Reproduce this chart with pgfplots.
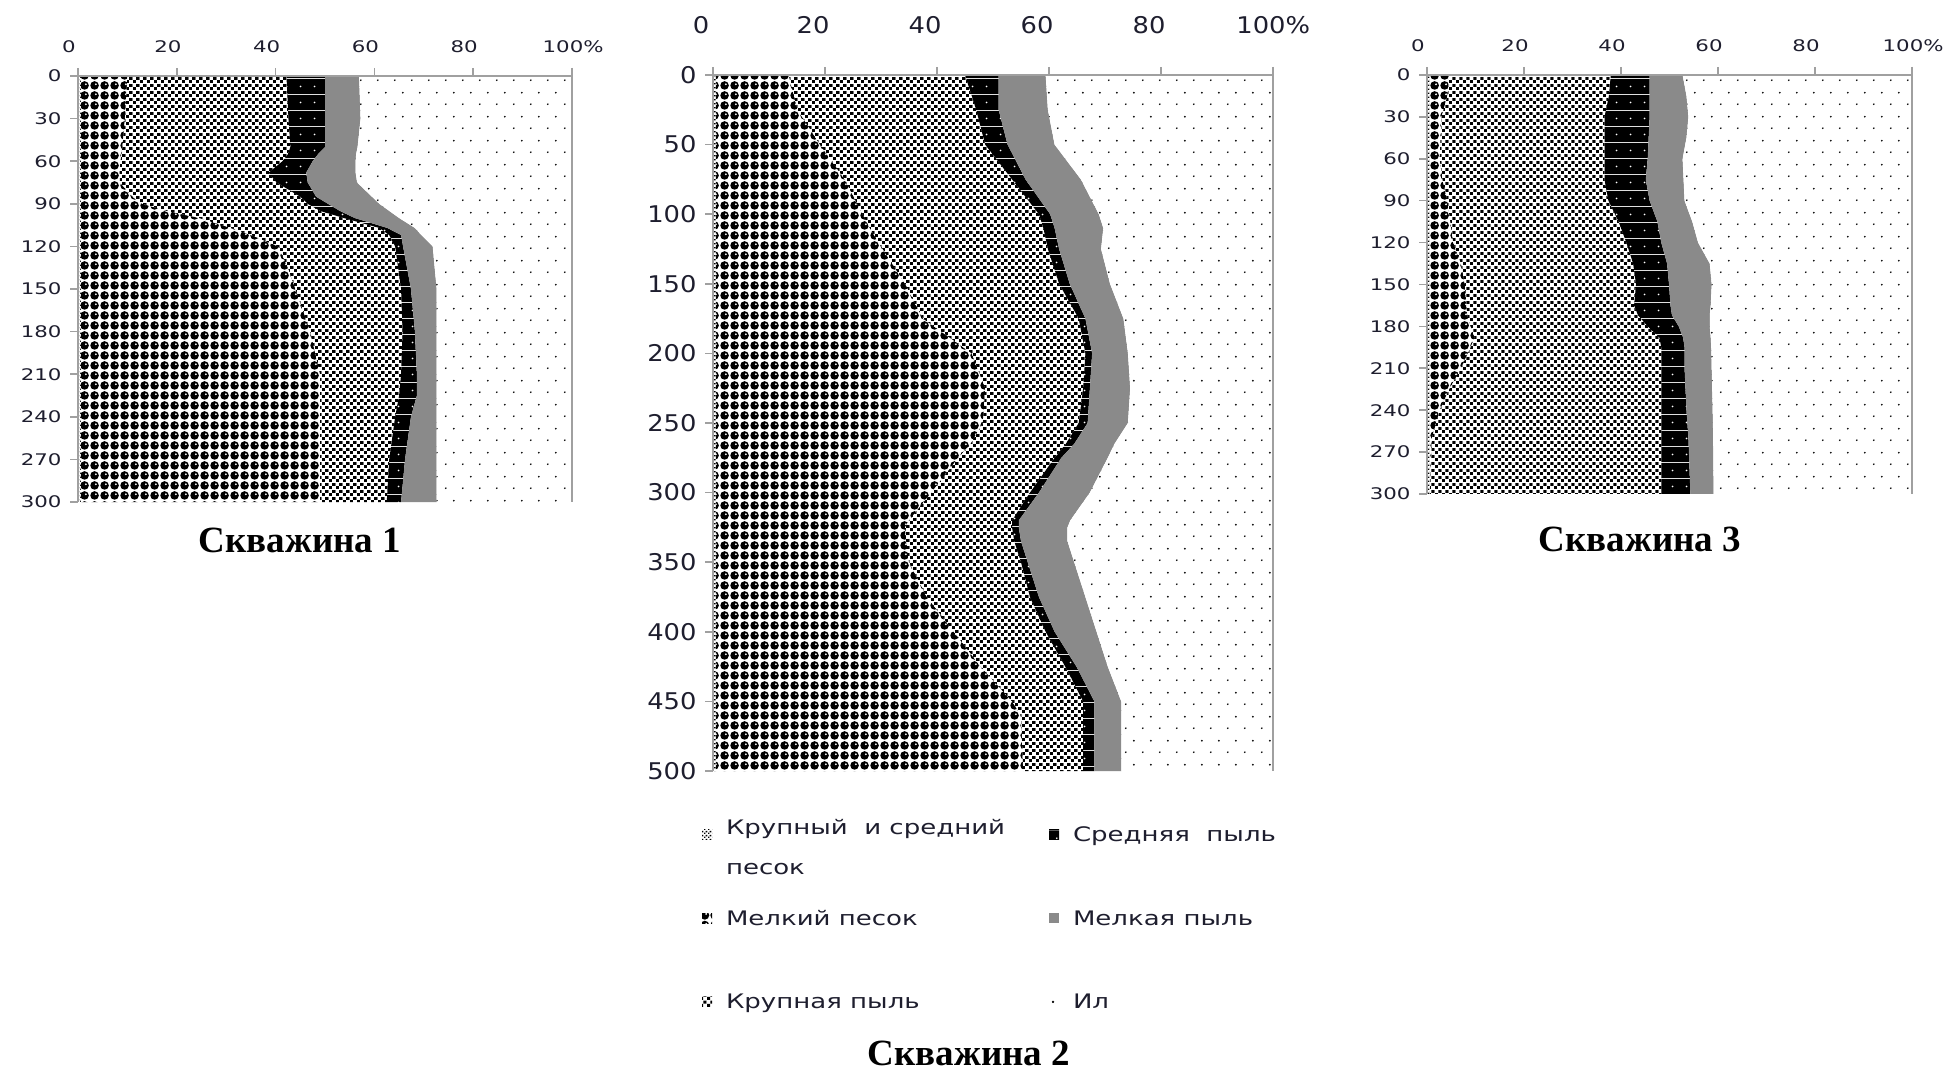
\documentclass[border=0pt]{standalone}
\usepackage{fontspec}
\setmainfont{Liberation Serif}
\newfontfamily\tickfont[FakeStretch=1.33]{DejaVu Sans}
\newfontfamily\tickfontB[FakeStretch=1.12]{DejaVu Sans}
\newfontfamily\legfont[FakeStretch=1.3]{DejaVu Sans}
\usepackage{pgfplots}
\usepackage{pgfplotstable}
\pgfplotsset{compat=1.18}
\usepgfplotslibrary{fillbetween}
\usetikzlibrary{patterns}

% patterns
\pgfdeclarepatterninherentlycolored{circlesbw}{\pgfpointorigin}{\pgfqpoint{10pt}{10pt}}{\pgfqpoint{10pt}{10pt}}{%
  \pgfsetfillcolor{white}\pgfpathrectangle{\pgfpointorigin}{\pgfqpoint{10pt}{10pt}}\pgfusepath{fill}%
  \pgfsetfillcolor{black}\pgfpathcircle{\pgfqpoint{5pt}{5pt}}{4.7pt}\pgfusepath{fill}%
  \pgfsetfillcolor{white}\pgfpathcircle{\pgfqpoint{6.5pt}{6.3pt}}{1.1pt}\pgfusepath{fill}}
\pgfdeclarepatterninherentlycolored{coarsedust}{\pgfpointorigin}{\pgfqpoint{7pt}{7pt}}{\pgfqpoint{7pt}{7pt}}{%
  \pgfsetfillcolor{white}\pgfpathrectangle{\pgfpointorigin}{\pgfqpoint{7pt}{7pt}}\pgfusepath{fill}%
  \pgfsetfillcolor{black}\pgfpathrectangle{\pgfqpoint{0.2pt}{0.2pt}}{\pgfqpoint{3.2pt}{3pt}}\pgfusepath{fill}%
  \pgfpathrectangle{\pgfqpoint{3.7pt}{3.7pt}}{\pgfqpoint{3.2pt}{3pt}}\pgfusepath{fill}}
\pgfdeclarepatterninherentlycolored{lightchk}{\pgfpointorigin}{\pgfqpoint{4pt}{4pt}}{\pgfqpoint{4pt}{4pt}}{%
  \pgfsetfillcolor{white}\pgfpathrectangle{\pgfpointorigin}{\pgfqpoint{4pt}{4pt}}\pgfusepath{fill}%
  \pgfsetfillcolor{black}\pgfpathrectangle{\pgfqpoint{0pt}{0pt}}{\pgfqpoint{1.6pt}{1.6pt}}\pgfusepath{fill}%
  \pgfpathrectangle{\pgfqpoint{2pt}{2pt}}{\pgfqpoint{1.6pt}{1.6pt}}\pgfusepath{fill}}
\pgfdeclarepatterninherentlycolored{blackdots}{\pgfpointorigin}{\pgfqpoint{14pt}{16pt}}{\pgfqpoint{14pt}{16pt}}{%
  \pgfsetfillcolor{black}\pgfpathrectangle{\pgfpointorigin}{\pgfqpoint{14pt}{16pt}}\pgfusepath{fill}%
  \pgfsetfillcolor{white}\pgfpathcircle{\pgfqpoint{7pt}{8pt}}{1pt}\pgfusepath{fill}}
\pgfdeclarepatterninherentlycolored{silt}{\pgfpointorigin}{\pgfqpoint{17pt}{24pt}}{\pgfqpoint{17pt}{24pt}}{%
  \pgfsetfillcolor{white}\pgfpathrectangle{\pgfpointorigin}{\pgfqpoint{17pt}{24pt}}\pgfusepath{fill}%
  \pgfsetfillcolor{black}\pgfpathcircle{\pgfqpoint{4pt}{6pt}}{1pt}\pgfusepath{fill}%
  \pgfpathcircle{\pgfqpoint{12.5pt}{18pt}}{1pt}\pgfusepath{fill}}
\definecolor{finegray}{HTML}{8A8A8A}
\definecolor{axgray}{HTML}{A0A0A0}
\definecolor{lbl}{HTML}{1E1E2E}

% boundaries (cumulative %): d = depth
\pgfplotstableread{
d z b1 b2 b3 b4 b5 h
0 0 0.6 10 42.2 50 56.9 100
30 0 0.6 9.5 42.6 50 57.2 100
50 0 0.6 9 43 50 56.6 100
55 0 0.6 8.8 42.5 48.6 56.3 100
60 0 0.6 8.6 41.4 47.5 56.2 100
68 0 0.6 8.4 38.6 46.2 56.2 100
75 0 0.6 8.5 40.2 46.5 56.5 100
85 0 0.6 11 45 48.2 59.5 100
90 0 0.6 13 46.5 50.6 61 100
95 0 0.6 18 49 53 63 100
100 0 0.6 24.5 53.8 56 65 100
107 0 0.6 31 61 62.6 68.2 100
112 0 0.6 35 63 65.4 69.5 100
120 0 0.6 40.5 64.2 65.8 71.8 100
135 0 0.6 42.5 64.8 66.6 72.2 100
150 0 0.6 44 65.4 67.4 72.6 100
180 0 0.6 47 65.7 68.2 72.6 100
210 0 0.6 49 65.4 68.6 72.6 100
225 0 0.6 49 65 68.6 72.6 100
240 0 0.6 49 64.2 67.4 72.6 100
270 0 0.6 49 63 66.2 72.6 100
300 0 0.6 49 62.5 65.4 72.6 100
}\tA
\pgfplotstableread{
d z b1 b2 b3 b4 b5 h
0 0 0.5 13.5 45 51 59.4 100
25 0 0.5 15.1 47 51 59.8 100
50 0 0.5 19.1 48.6 52.6 61 100
75 0 0.5 23.5 53.4 55.8 65.7 100
100 0 0.5 26.7 58.2 60.2 68.9 100
110 0 0.5 28 59 61 69.7 100
125 0 0.5 30.3 59.8 61.8 69.3 100
150 0 0.5 34.3 61.8 63.7 70.9 100
175 0 0.5 37.5 65.3 66.5 73.3 100
200 0 0.5 46.2 66.5 67.7 74.1 100
225 0 0.5 48.6 66.1 67.3 74.5 100
250 0 0.5 48.2 65.3 66.9 74.1 100
265 0 0.5 46 63 64.5 71.7 100
275 0 0.5 43.8 61 62.2 70.5 100
300 0 0.5 39 56.6 58.2 67.3 100
320 0 0.5 35 53.4 54.6 63.8 100
325 0 0.5 34.3 53.4 54.6 63.3 100
335 0 0.5 34.5 53.8 55 63.3 100
350 0 0.5 35 55 56.2 64.5 100
375 0 0.5 38.2 56.6 58.2 66.5 100
400 0 0.5 43 59.4 61 68.5 100
425 0 0.5 47.8 62.9 64.9 70.5 100
450 0 0.5 53.4 66.1 68.1 72.9 100
460 0 0.5 55 66.1 68.1 72.9 100
500 0 0.5 55.4 66.1 68.1 72.9 100
}\tB
\pgfplotstableread{
d z b1 b2 b3 b4 b5 h
0 0 0.6 4.6 37.9 45.9 52.7 100
15 0 0.6 4.2 37.5 45.9 53.5 100
30 0 0.6 3 36.6 45.9 53.9 100
45 0 0.6 2.8 36.6 45.7 53.5 100
60 0 0.6 2.6 36.6 45.5 52.7 100
75 0 0.6 3.2 36.6 45.1 52.9 100
90 0 0.6 4.2 37.4 45.9 53.1 100
105 0 0.6 4.8 39.5 47.5 54.7 100
120 0 0.6 5.4 41.1 48.3 55.9 100
135 0 0.6 7 42.5 49.5 58.3 100
150 0 0.6 7.8 43.1 49.9 58.7 100
165 0 0.6 8.1 42.7 50.2 58.5 100
172 0 0.6 8.3 43.5 50.5 58.3 100
180 0 0.6 9 45.5 51.9 58.3 100
188 0 0.6 9.8 47.9 52.8 58.5 100
195 0 0.6 9 48.3 53.1 58.6 100
210 0 0.6 7 48.3 53.1 58.7 100
225 0 0.6 4.6 48.3 53.3 58.8 100
240 0 0.6 2.6 48.3 53.5 58.9 100
260 0 0.6 1 48.3 53.9 59 100
300 0 0.6 0.6 48.3 54.3 59.1 100
}\tC

\pgfplotsset{
  wellaxis/.style={
    scale only axis, y dir=reverse, xmin=0, xmax=100,
    axis x line*=top, axis y line*=left,
    xtick={0,20,40,60,80,100}, xticklabels={0,20,40,60,80,100\rlap{\%}},
    tick align=outside, major tick length=8pt,
    axis line style={-, axgray, line width=1.6pt},
    every tick/.style={axgray, line width=1.6pt},
    axis on top,
    extra x ticks={100}, extra x tick labels={},
    extra x tick style={grid=major, major grid style={axgray, line width=1.6pt}},
    /pgf/number format/assume math mode=true,
    tick label style={text=lbl},
    yticklabel style={xshift=-5pt},
  },
}

\newcommand\layers[2]{%
  \addplot[draw=none, forget plot, name path=#2z] table[x=z, y=d] {#1};
  \addplot[draw=none, forget plot, name path=#2a] table[x=b1, y=d] {#1};
  \addplot[draw=none, forget plot, name path=#2b] table[x=b2, y=d] {#1};
  \addplot[draw=none, forget plot, name path=#2c] table[x=b3, y=d] {#1};
  \addplot[draw=none, forget plot, name path=#2d] table[x=b4, y=d] {#1};
  \addplot[draw=none, forget plot, name path=#2e] table[x=b5, y=d] {#1};
  \addplot[draw=none, forget plot, name path=#2h] table[x=h, y=d] {#1};
  \addplot[pattern=lightchk, draw=none, forget plot] fill between[of=#2z and #2a, reverse=true];
  \addplot[pattern=circlesbw, draw=none, forget plot] fill between[of=#2a and #2b, reverse=true];
  \addplot[pattern=coarsedust, draw=none, forget plot] fill between[of=#2b and #2c, reverse=true];
  \addplot[pattern=blackdots, draw=none, forget plot] fill between[of=#2c and #2d, reverse=true];
  \addplot[fill=finegray, draw=none, forget plot] fill between[of=#2d and #2e, reverse=true];
  \addplot[pattern=silt, draw=none, forget plot] fill between[of=#2e and #2h, reverse=true];
}

\begin{document}
\begin{tikzpicture}

% Скважина 1
\begin{axis}[wellaxis, at={(78pt,-76pt)}, anchor=north west,
  width=494pt, height=426pt, ymin=0, ymax=300, ytick={0,30,...,300},
  tick label style={font=\tickfont\fontsize{16}{16}\selectfont},
  xticklabel style={yshift=12pt, xshift=-9pt}]
\layers{\tA}{p}
\end{axis}

% Скважина 2
\begin{axis}[wellaxis, at={(713pt,-75pt)}, anchor=north west,
  width=560pt, height=696pt, ymin=0, ymax=500, ytick={0,50,...,500},
  tick label style={font=\tickfontB\fontsize{23}{23}\selectfont},
  xticklabel style={yshift=30pt, xshift=-12pt},
  legend image code/.code={\path[#1] (0pt,-5pt) rectangle (10pt,5pt);},
  legend columns=3, transpose legend, legend cell align=left,
  legend style={at={(axis description cs:-0.02,-0.077)}, anchor=north west,
    draw=none, fill=none, inner sep=0pt, text=lbl,
    font=\legfont\fontsize{20}{27}\selectfont,
    row sep=63pt, /tikz/every odd column/.append style={column sep=12pt},
    /tikz/every even column/.append style={column sep=42pt}}]
\layers{\tB}{q}
\addlegendimage{pattern=lightchk, draw=none}
\addlegendentry{\smash{\begin{tabular}[t]{@{}l@{}}Крупный~~и~средний\\[13pt]песок\end{tabular}}}
\addlegendimage{pattern=circlesbw, draw=none}
\addlegendentry{Мелкий~песок}
\addlegendimage{pattern=coarsedust, draw=none}
\addlegendentry{Крупная пыль}
\addlegendimage{pattern=blackdots, draw=none}
\addlegendentry{Средняя~~пыль}
\addlegendimage{fill=finegray, draw=none}
\addlegendentry{Мелкая пыль}
\addlegendimage{legend image code/.code={\fill[black] (4pt,0pt) circle (1pt);}}
\addlegendentry{Ил}
\end{axis}

% Скважина 3
\begin{axis}[wellaxis, at={(1427pt,-75pt)}, anchor=north west,
  width=485pt, height=419pt, ymin=0, ymax=300, ytick={0,30,...,300},
  tick label style={font=\tickfont\fontsize{16}{16}\selectfont},
  xticklabel style={yshift=12pt, xshift=-9pt}]
\layers{\tC}{r}
\end{axis}

\node[anchor=base, font=\bfseries\fontsize{37}{37}\selectfont] at (300pt,-552pt) {Скважина 1};
\node[anchor=base, font=\bfseries\fontsize{37}{37}\selectfont] at (969pt,-1065pt) {Скважина 2};
\node[anchor=base, font=\bfseries\fontsize{37}{37}\selectfont] at (1640pt,-551pt) {Скважина 3};
\path (0pt,0pt) rectangle (1946pt,-1070pt);
\end{tikzpicture}
\end{document}
